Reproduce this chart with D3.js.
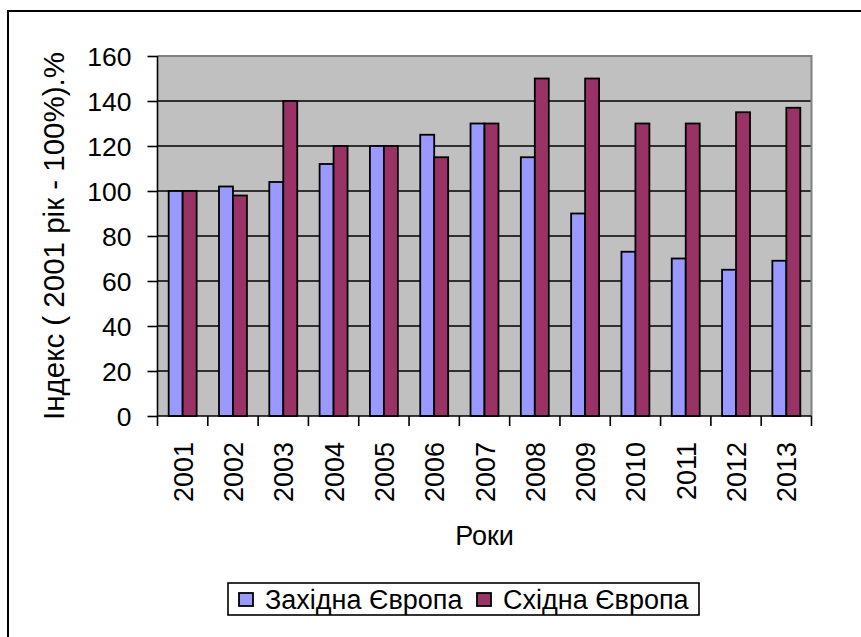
<!DOCTYPE html>
<html>
<head>
<meta charset="utf-8">
<script src="https://cdn.jsdelivr.net/npm/d3@7"></script>
<style>
  body { margin: 0; background: #fff; }
  svg { display: block; font-family: "Liberation Sans", Arial, sans-serif; }
</style>
</head>
<body>
<div id="d3-target"></div>
<script>
const years = ['2001', '2002', '2003', '2004', '2005', '2006', '2007',
  '2008', '2009', '2010', '2011', '2012', '2013'];
const westValues = [100, 102, 104, 112, 120, 125, 130, 115, 90, 73, 70, 65, 69];
const eastValues = [100, 98, 140, 120, 120, 115, 130, 150, 150, 130, 130, 135, 137];
const seriesNames = ['Західна Європа', 'Східна Європа'];
const yTicks = [0, 20, 40, 60, 80, 100, 120, 140, 160];

const colors = ['#9999ff', '#993366'];

const margin = {top: 56, right: 49.5, bottom: 221, left: 157.5},
  W = 861, H = 637,
  width = W - margin.left - margin.right,
  height = H - margin.top - margin.bottom;

const data = years.map((y, i) => ({year: y, values: [westValues[i], eastValues[i]]}));

const x = d3.scaleBand()
  .domain(years)
  .range([0, width])
  .padding(0);

const xInner = d3.scaleBand()
  .domain([0, 1])
  .range([0, x.bandwidth()])
  .paddingInner(0)
  .paddingOuter(0.8);

const y = d3.scaleLinear()
  .domain([0, 160])
  .range([height, 0]);

const svgTop = d3.select('#d3-target')
  .append('svg')
  .attr('width', W)
  .attr('height', H);

// outer chart frame (runs off the right/bottom edge)
svgTop.append('rect')
  .attr('x', 8).attr('y', 11)
  .attr('width', W + 20).attr('height', H + 20)
  .attr('fill', '#fff')
  .attr('stroke', '#000')
  .attr('stroke-width', 2);

const svg = svgTop.append('g')
  .attr('transform', `translate(${margin.left},${margin.top})`);

svg.append('rect')
  .attr('width', width)
  .attr('height', height)
  .attr('fill', '#c0c0c0');

// grid
svg.append('g')
  .selectAll('line')
  .data(yTicks.filter(d => d > 0 && d < 160))
  .enter().append('line')
    .attr('x1', 0).attr('x2', width)
    .attr('y1', d => y(d)).attr('y2', d => y(d))
    .attr('stroke', '#000')
    .attr('stroke-width', 1.6);

// gray top/right border of the plot area
svg.append('path')
  .attr('d', `M0,${y(160)}H${width}V${height}`)
  .attr('fill', 'none')
  .attr('stroke', '#808080')
  .attr('stroke-width', 2);

// bars
const groups = svg.selectAll('.year')
  .data(data)
  .enter().append('g')
    .attr('class', 'year')
    .attr('transform', d => `translate(${x(d.year)},0)`);

groups.selectAll('rect')
  .data(d => d.values)
  .enter().append('rect')
    .attr('x', (d, i) => xInner(i))
    .attr('width', xInner.bandwidth())
    .attr('y', d => y(d))
    .attr('height', d => height - y(d))
    .attr('fill', (d, i) => colors[i])
    .attr('stroke', '#000')
    .attr('stroke-width', 1.8);

// y axis
const yAxis = d3.axisLeft(y)
  .tickValues(yTicks)
  .tickSize(10)
  .tickPadding(16);

svg.append('g')
  .attr('class', 'y axis')
  .call(yAxis)
  .call(g => g.selectAll('path, line').attr('stroke', '#000').attr('stroke-width', 1.6))
  .call(g => g.select('.domain').attr('d', `M0,${y(160)}V${height}`))
  .call(g => g.selectAll('text')
    .attr('font-size', 26.5)
    .attr('font-family', '"Liberation Sans", Arial, sans-serif')
    .attr('fill', '#000')
    .attr('dy', '0.36em'));

// x axis: ticks at category boundaries
const xAxisG = svg.append('g')
  .attr('class', 'x axis')
  .attr('transform', `translate(0,${height})`);

xAxisG.append('line')
  .attr('x1', 0).attr('x2', width)
  .attr('stroke', '#000').attr('stroke-width', 1.6);

xAxisG.selectAll('.tick-mark')
  .data(years.concat(['end']))
  .enter().append('line')
    .attr('class', 'tick-mark')
    .attr('x1', d => d === 'end' ? width : x(d))
    .attr('x2', d => d === 'end' ? width : x(d))
    .attr('y1', 0).attr('y2', 10)
    .attr('stroke', '#000').attr('stroke-width', 1.6);

xAxisG.selectAll('.tick-label')
  .data(years)
  .enter().append('text')
    .attr('class', 'tick-label')
    .attr('transform', d => `translate(${x(d) + x.bandwidth() / 2 + 10},26) rotate(-90)`)
    .attr('text-anchor', 'end')
    .attr('font-size', 27)
    .text(d => d);

// axis titles
svgTop.append('text')
  .attr('x', margin.left + width / 2)
  .attr('y', 545)
  .attr('text-anchor', 'middle')
  .attr('font-size', 27)
  .text('Роки');

svgTop.append('text')
  .attr('transform', `translate(64,${margin.top + height / 2}) rotate(-90)`)
  .attr('text-anchor', 'middle')
  .attr('font-size', 29.5)
  .text('Індекс ( 2001 рік - 100%).%');

// legend
const legend = svgTop.append('g')
  .attr('class', 'legend')
  .attr('transform', 'translate(228,583)');

legend.append('rect')
  .attr('width', 471)
  .attr('height', 32)
  .attr('fill', '#fff')
  .attr('stroke', '#000')
  .attr('stroke-width', 1.6);

const legendX = [11, 249];

const items = legend.selectAll('.legend-item')
  .data(seriesNames)
  .enter().append('g')
    .attr('class', 'legend-item')
    .attr('transform', (d, i) => `translate(${legendX[i]},0)`);

items.append('rect')
  .attr('x', 0).attr('y', 10)
  .attr('width', 14).attr('height', 13)
  .attr('fill', (d, i) => colors[i])
  .attr('stroke', '#000')
  .attr('stroke-width', 1.8);

items.append('text')
  .attr('x', 26)
  .attr('y', 26)
  .attr('font-size', 27)
  .text(d => d);
</script>
</body>
</html>
